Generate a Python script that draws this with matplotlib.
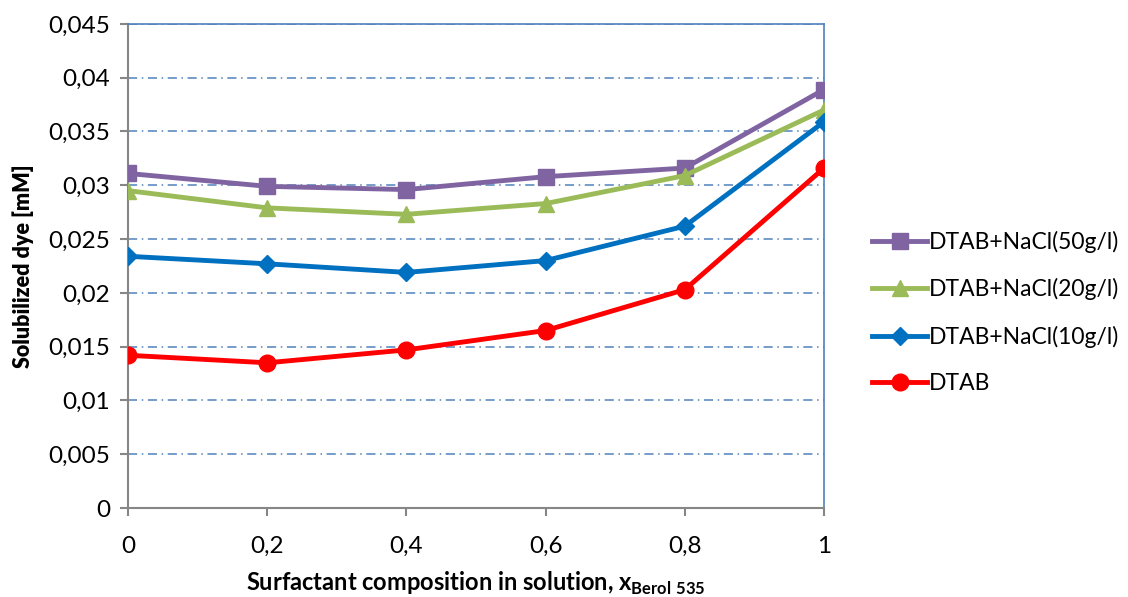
import matplotlib.pyplot as plt
import numpy as np

plt.rcParams['font.family'] = ['Lato', 'DejaVu Sans']
plt.rcParams['mathtext.fontset'] = 'custom'
plt.rcParams['mathtext.rm'] = 'Lato'
plt.rcParams['mathtext.bf'] = 'Lato:bold'

x = [0, 0.2, 0.4, 0.6, 0.8, 1.0]
dtab_50 = [0.0311, 0.0299, 0.0296, 0.0308, 0.0316, 0.0389]
dtab_20 = [0.0295, 0.0279, 0.0273, 0.0283, 0.0309, 0.0370]
dtab_10 = [0.0234, 0.0227, 0.0219, 0.0230, 0.0262, 0.0359]
dtab = [0.0142, 0.0135, 0.0147, 0.0165, 0.0203, 0.0316]

labels = ['DTAB+NaCl(50g/l)', 'DTAB+NaCl(20g/l)', 'DTAB+NaCl(10g/l)', 'DTAB']
yticks = [0, 0.005, 0.01, 0.015, 0.02, 0.025, 0.03, 0.035, 0.04, 0.045]
xticks = [0, 0.2, 0.4, 0.6, 0.8, 1]

fig = plt.figure(figsize=(11.28, 5.97), dpi=100)
ax = fig.add_axes([0.1135, 0.149, 0.617, 0.811])

grid_col = '#4F81BD'
for yv in yticks[1:]:
    ax.axhline(yv, color=grid_col, lw=1.1, ls=(0, (6, 3, 1, 3)), zorder=1)

ax.plot(x, dtab_50, color='#8064A2', lw=3.5, marker='s', ms=11, label=labels[0], zorder=3)
ax.plot(x, dtab_20, color='#9BBB59', lw=3.5, marker='^', ms=12, label=labels[1], zorder=3)
ax.plot(x, dtab_10, color='#0070C0', lw=3.5, marker='D', ms=9, label=labels[2], zorder=3)
ax.plot(x, dtab, color='#FF0000', lw=3.5, marker='o', ms=12, label=labels[3], zorder=3)

ax.set_xlim(0, 1)
ax.set_ylim(0, 0.045)
ax.set_xticks(xticks)
ax.set_xticklabels([str(v).replace('.', ',') if v not in (0, 1) else str(int(v)) for v in xticks])
ax.set_yticks(yticks)
ax.set_yticklabels(['0'] + [('%g' % v).replace('.', ',') for v in yticks[1:]])

for s in ['left', 'bottom']:
    ax.spines[s].set_color('#868686')
    ax.spines[s].set_linewidth(1.5)
for s in ['top', 'right']:
    ax.spines[s].set_color(grid_col)
    ax.spines[s].set_linewidth(1.2)
ax.tick_params(axis='both', colors='#868686', labelcolor='black', labelsize=17.5,
               length=6, width=1.5, direction='out')
ax.tick_params(axis='x', pad=14)
ax.tick_params(axis='y', pad=7)

ax.set_ylabel('Solubilized dye [mM]', fontsize=15.5, fontweight='heavy', labelpad=10)
ax.set_xlabel(r'Surfactant composition in solution, x$_{\mathbf{Berol\ 535}}$',
              fontsize=17, fontweight='bold', labelpad=9)

ax.legend(loc='center left', bbox_to_anchor=(1.069, 0.404), frameon=False, fontsize=16.5,
          handlelength=2.4, labelspacing=1.1, handletextpad=0.1,
          borderpad=0, borderaxespad=0)

fig.savefig('out.png', dpi=100)
